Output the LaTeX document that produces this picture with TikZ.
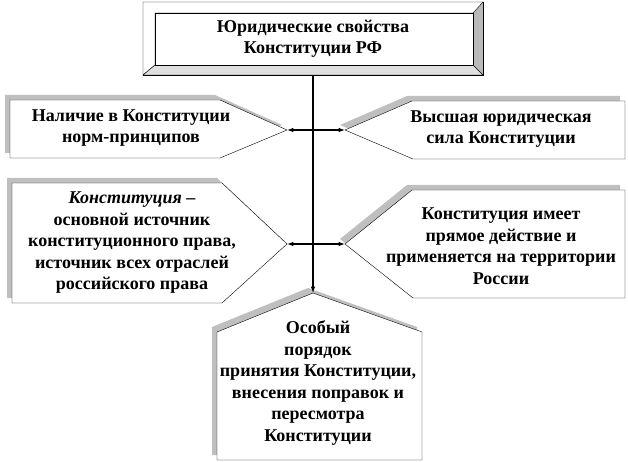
\documentclass[tikz,border=0pt]{standalone}
\usepackage{fontspec}
\setmainfont{Liberation Serif}
\usetikzlibrary{arrows.meta,positioning}

\begin{document}
\begin{tikzpicture}[x=1pt,y=-1pt,
  box/.style={draw,thin,fill=white},
  shd/.style={fill=gray!50,draw=none,shift={(-5,-5)}},
  txt/.style={align=center,font=\bfseries\fontsize{18}{21.5}\selectfont},
  arr/.style={-{Latex[length=2.2mm,width=1.6mm]},line width=1.6pt}
]
\useasboundingbox (0,0) rectangle (628,462);
% top frame
\draw[fill=gray!55] (143,2) rectangle (483,75);
\draw[fill=white] (143,2) -- (483,2) -- (473,13) -- (155,13) -- (155,65) -- (143,75) -- cycle;
\draw[fill=gray!25] (143,75) -- (155,65) -- (473,65) -- (483,75) -- cycle;
\draw[fill=white] (155,13) rectangle (473,65);
\node[txt,minimum width=340pt,minimum height=73pt] (prop) at (313,38.5) {Юридические свойства\\Конституции РФ};
% side boxes
\fill[shd] (10,100) -- (220,100) -- (287,130) -- (220,158) -- (10,158) -- cycle;
\draw[box] (10,100) -- (220,100) -- (287,130) -- (220,158) -- (10,158) -- cycle;
\fill[shd] (12,183) -- (222,183) -- (287,244) -- (222,303) -- (12,303) -- cycle;
\draw[box] (12,183) -- (222,183) -- (287,244) -- (222,303) -- (12,303) -- cycle;
\fill[shd] (625,101) -- (412,101) -- (345,130) -- (413,159) -- (625,159) -- cycle;
\draw[box] (625,101) -- (412,101) -- (345,130) -- (413,159) -- (625,159) -- cycle;
\fill[shd] (625,190) -- (412,190) -- (345,244) -- (413,298) -- (625,298) -- cycle;
\draw[box] (625,190) -- (412,190) -- (345,244) -- (413,298) -- (625,298) -- cycle;
\fill[shd] (313,293) -- (422,332) -- (422,460) -- (217,460) -- (217,332) -- cycle;
\draw[box] (313,293) -- (422,332) -- (422,460) -- (217,460) -- (217,332) -- cycle;
\node[txt] (norm) at (131,128) {Наличие в Конституции\\норм-принципов};
\node[txt] (src) at (132,243) {\textit{Конституция} --\\основной источник\\конституционного права,\\источник всех отраслей\\российского права};
\node[txt] (force) at (501,129) {Высшая юридическая\\сила Конституции};
\node[txt] (direct) at (501,246) {Конституция имеет\\прямое действие и\\применяется на территории\\России};
\node[txt] (order) at (318,383) {Особый\\порядок\\принятия Конституции,\\внесения поправок и\\пересмотра\\Конституции};
% connectors
\coordinate (ordtip) at (313,293);
\coordinate (j1) at (313,130); \coordinate (j2) at (313,244);
\coordinate (l1) at (287,130); \coordinate (l2) at (287,244);
\coordinate (r1) at (345,130); \coordinate (r2) at (345,244);
\draw[arr] (prop.south) -- (ordtip);
\draw[arr] (j1) -- (l1); \draw[arr] (j1) -- (r1);
\draw[arr] (j2) -- (l2); \draw[arr] (j2) -- (r2);
\end{tikzpicture}
\end{document}
